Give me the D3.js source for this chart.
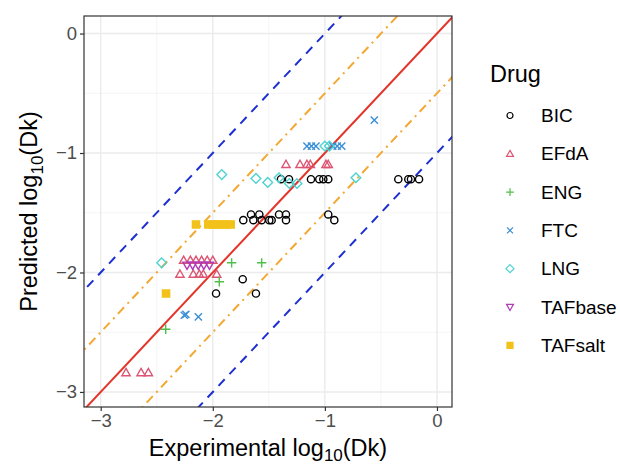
<!DOCTYPE html>
<html>
<head>
<meta charset="utf-8">
<script src="https://cdn.jsdelivr.net/npm/d3@7"></script>
<style>
  body { margin: 0; background: #fff; }
  svg { font-family: "Liberation Sans", Arial, sans-serif; }
</style>
</head>
<body>
<svg id="chart" width="620" height="465"></svg>
<script>
// values (log10 units)
const drugs = ['BIC', 'EFdA', 'ENG', 'FTC', 'LNG', 'TAFbase', 'TAFsalt'];

const bicX = [-1.392, -1.32, -1.124, -1.05, -1.014, -0.97, -0.345, -0.256, -0.232, -0.16,
  -1.728, -1.659, -1.638, -1.585, -1.564, -1.496, -1.475, -1.409, -1.347, -1.347, -0.97, -0.916,
  -1.733, -1.971, -1.615];
const bicY = [-1.219, -1.219, -1.219, -1.219, -1.219, -1.219, -1.219, -1.219, -1.219, -1.219,
  -1.562, -1.514, -1.562, -1.514, -1.562, -1.562, -1.562, -1.514, -1.514, -1.562, -1.514, -1.562,
  -2.056, -2.176, -2.176];

const efdaX = [-1.347, -1.222, -1.16, -1.13, -0.99, -0.97,
  -2.26, -2.2, -2.15, -2.1, -2.05, -2.0,
  -2.293, -2.174, -2.12, -2.085, -1.965,
  -2.774, -2.64, -2.575];
const efdaY = [-1.095, -1.095, -1.095, -1.095, -1.095, -1.095,
  -1.897, -1.897, -1.897, -1.897, -1.897, -1.897,
  -2.014, -2.014, -2.014, -2.014, -2.014,
  -2.838, -2.838, -2.838];

const engX = [-1.832, -1.564, -1.942, -2.42];
const engY = [-1.919, -1.919, -2.078, -2.475];

const ftcX = [-0.559, -1.16, -1.12, -1.08, -0.93, -0.89, -0.85, -2.254, -2.24, -2.129];
const ftcY = [-0.724, -0.942, -0.942, -0.942, -0.942, -0.942, -0.942, -2.358, -2.35, -2.371];

const lngX = [-1.92, -1.615, -1.51, -1.409, -1.317, -1.249, -0.723, -2.456, -1.0, -0.96];
const lngY = [-1.18, -1.213, -1.246, -1.207, -1.255, -1.255, -1.207, -1.919, -0.942, -0.942];

const tafbaseX = [-2.23, -2.18, -2.13, -2.08, -2.03];
const tafbaseY = [-1.939, -1.939, -1.939, -1.939, -1.939];

const tafsaltX = [-2.15, -2.04, -2.0, -1.96, -1.92, -1.88, -1.84, -2.417];
const tafsaltY = [-1.598, -1.598, -1.598, -1.598, -1.598, -1.598, -1.598, -2.176];

const ticks = [-3, -2, -1, 0];
const minorTicks = [-2.5, -1.5, -0.5];
const lineOffsets = [1, 0.5, 0, -0.5, -1];

const series = [
  { name: 'BIC', x: bicX, y: bicY, color: '#000000', shape: 'circle' },
  { name: 'EFdA', x: efdaX, y: efdaY, color: '#DC5573', shape: 'triangle' },
  { name: 'ENG', x: engX, y: engY, color: '#4FBF4A', shape: 'plus' },
  { name: 'FTC', x: ftcX, y: ftcY, color: '#3A8FD6', shape: 'cross' },
  { name: 'LNG', x: lngX, y: lngY, color: '#4FD3D0', shape: 'diamond' },
  { name: 'TAFbase', x: tafbaseX, y: tafbaseY, color: '#B03AB8', shape: 'triangleDown' },
  { name: 'TAFsalt', x: tafsaltX, y: tafsaltY, color: '#F2C21B', shape: 'squareX' }
];

const svg = d3.select('#chart');
const panel = { left: 84, top: 16, right: 452, bottom: 407 };

const x = d3.scaleLinear().domain([-3.149, 0.134]).range([panel.left, panel.right]);
const y = d3.scaleLinear().domain([-3.126, 0.147]).range([panel.bottom, panel.top]);

svg.append('defs').append('clipPath').attr('id', 'clip')
  .append('rect')
  .attr('x', panel.left).attr('y', panel.top)
  .attr('width', panel.right - panel.left).attr('height', panel.bottom - panel.top);

// grid
const grid = svg.append('g');
minorTicks.forEach(t => {
  grid.append('line').attr('x1', x(t)).attr('x2', x(t)).attr('y1', panel.top).attr('y2', panel.bottom)
    .attr('stroke', '#F2F2F2').attr('stroke-width', 0.8);
  grid.append('line').attr('y1', y(t)).attr('y2', y(t)).attr('x1', panel.left).attr('x2', panel.right)
    .attr('stroke', '#F2F2F2').attr('stroke-width', 0.8);
});
ticks.forEach(t => {
  grid.append('line').attr('x1', x(t)).attr('x2', x(t)).attr('y1', panel.top).attr('y2', panel.bottom)
    .attr('stroke', '#EBEBEB').attr('stroke-width', 1.4);
  grid.append('line').attr('y1', y(t)).attr('y2', y(t)).attr('x1', panel.left).attr('x2', panel.right)
    .attr('stroke', '#EBEBEB').attr('stroke-width', 1.4);
});

// reference lines y = x + k
const refLines = svg.append('g').attr('clip-path', 'url(#clip)');
lineOffsets.forEach(k => {
  const style = k === 0
    ? { stroke: '#E3342A', dash: null }
    : Math.abs(k) === 1
      ? { stroke: '#1D2FD0', dash: '9,7' }
      : { stroke: '#F2A833', dash: '9,5,2,5' };
  refLines.append('line')
    .attr('x1', x(-4)).attr('y1', y(-4 + k))
    .attr('x2', x(1)).attr('y2', y(1 + k))
    .attr('stroke', style.stroke)
    .attr('stroke-width', 2)
    .attr('stroke-dasharray', style.dash);
});

// point shapes
function shapePath (shape, s) {
  switch (shape) {
    case 'circle':
      return `M${s},0A${s},${s} 0 1,1 ${-s},0A${s},${s} 0 1,1 ${s},0Z`;
    case 'triangle': {
      const h = s * 1.15;
      return `M0,${-h}L${h},${h * 0.75}L${-h},${h * 0.75}Z`;
    }
    case 'triangleDown': {
      const h = s * 1.15;
      return `M0,${h}L${h},${-h * 0.75}L${-h},${-h * 0.75}Z`;
    }
    case 'plus':
      return `M${-s * 1.3},0L${s * 1.3},0M0,${-s * 1.3}L0,${s * 1.3}`;
    case 'cross':
      return `M${-s},${-s}L${s},${s}M${-s},${s}L${s},${-s}`;
    case 'diamond':
      return `M0,${-s * 1.35}L${s * 1.35},0L0,${s * 1.35}L${-s * 1.35},0Z`;
    case 'squareX':
      return `M${-s},${-s}L${s},${-s}L${s},${s}L${-s},${s}ZM${-s},${-s}L${s},${s}M${-s},${s}L${s},${-s}`;
  }
}

const pts = svg.append('g');
series.forEach(g => {
  pts.selectAll(null)
    .data(g.x.map((v, i) => ({ x: v, y: g.y[i] })))
    .enter().append('path')
    .attr('transform', d => `translate(${x(d.x)},${y(d.y)})`)
    .attr('d', shapePath(g.shape, 3.6))
    .attr('fill', g.shape === 'squareX' ? g.color : 'none')
    .attr('stroke', g.color)
    .attr('stroke-width', 1.4);
});

// panel border
svg.append('rect')
  .attr('x', panel.left).attr('y', panel.top)
  .attr('width', panel.right - panel.left).attr('height', panel.bottom - panel.top)
  .attr('fill', 'none').attr('stroke', '#333333').attr('stroke-width', 1.2);

// axes
const xAxis = svg.append('g')
  .attr('transform', `translate(0,${panel.bottom})`)
  .call(d3.axisBottom(x).tickValues(ticks).tickSize(4).tickPadding(3)
    .tickFormat(d => d < 0 ? '\u2212' + Math.abs(d) : d));
const yAxis = svg.append('g')
  .attr('transform', `translate(${panel.left},0)`)
  .call(d3.axisLeft(y).tickValues(ticks).tickSize(4).tickPadding(3)
    .tickFormat(d => d < 0 ? '\u2212' + Math.abs(d) : d));
[xAxis, yAxis].forEach(a => {
  a.select('.domain').remove();
  a.selectAll('.tick line').attr('stroke', '#333333').attr('stroke-width', 1.2);
  a.selectAll('.tick text').attr('fill', '#4D4D4D').style('font-size', '18.5px')
    .style('font-family', '"Liberation Sans", Arial, sans-serif');
});

// axis titles
const xt = svg.append('text')
  .attr('x', (panel.left + panel.right) / 2).attr('y', 456)
  .attr('text-anchor', 'middle').style('font-size', '23.5px').attr('fill', '#000');
xt.append('tspan').text('Experimental log');
xt.append('tspan').attr('dy', 5).style('font-size', '17px').text('10');
xt.append('tspan').attr('dy', -5).text('(Dk)');

const yt = svg.append('text')
  .attr('transform', `translate(37,${(panel.top + panel.bottom) / 2}) rotate(-90)`)
  .attr('text-anchor', 'middle').style('font-size', '23.5px').attr('fill', '#000');
yt.append('tspan').text('Predicted log');
yt.append('tspan').attr('dy', 6).style('font-size', '17px').text('10');
yt.append('tspan').attr('dy', -6).text('(Dk)');

// legend
const legend = svg.append('g').attr('transform', 'translate(490,0)');
legend.append('text').attr('x', 0).attr('y', 82)
  .style('font-size', '23.5px').attr('fill', '#000').text('Drug');

const items = legend.selectAll('.legend-item')
  .data(series)
  .enter().append('g')
  .attr('class', 'legend-item')
  .attr('transform', (d, i) => `translate(0,${115.5 + i * 38.3})`);

items.append('path')
  .attr('transform', 'translate(20,0)')
  .attr('d', d => shapePath(d.shape, 3))
  .attr('fill', d => d.shape === 'squareX' ? d.color : 'none')
  .attr('stroke', d => d.color)
  .attr('stroke-width', 1.2);

items.append('text')
  .attr('x', 51).attr('y', 0).attr('dy', '0.35em')
  .style('font-size', '19px').attr('fill', '#000')
  .text(d => d.name);
</script>
</body>
</html>
